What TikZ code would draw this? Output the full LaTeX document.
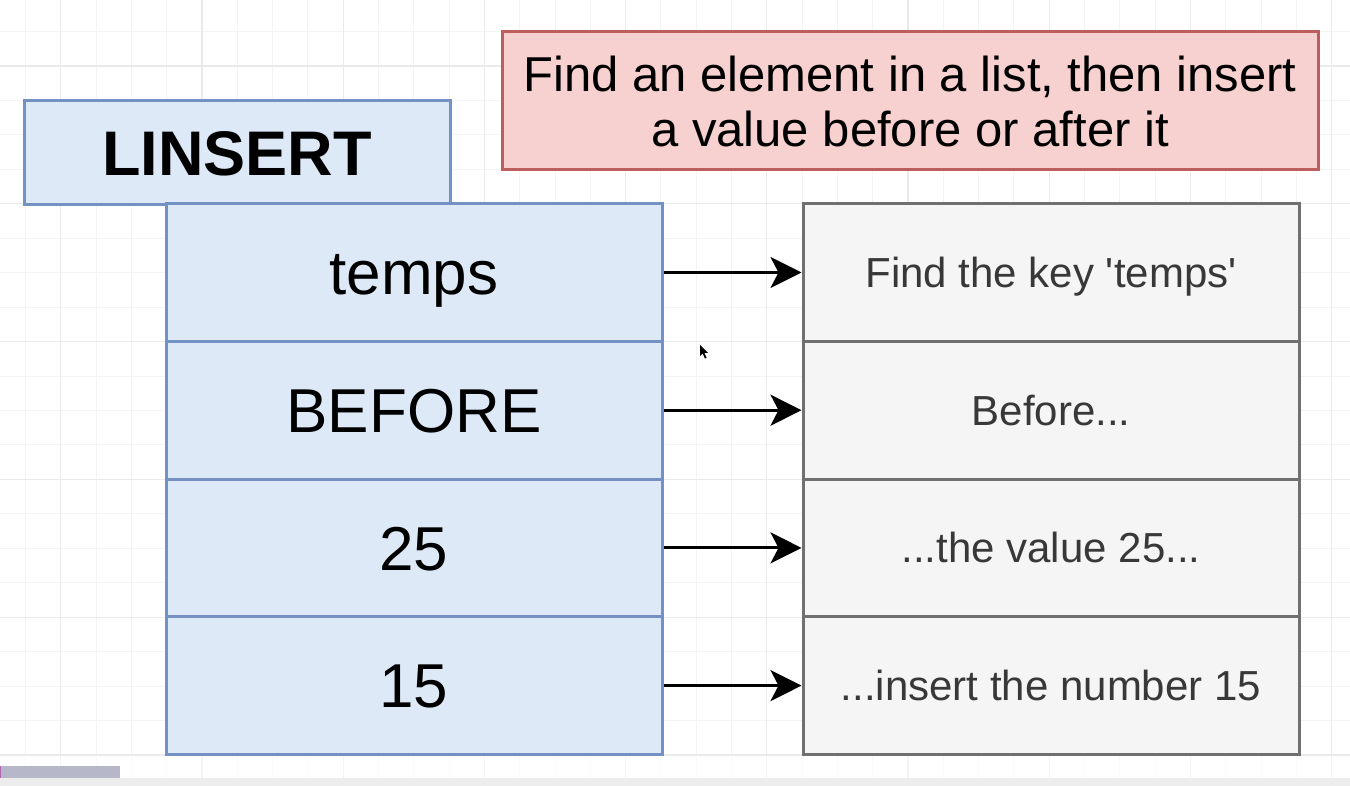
\documentclass[tikz,border=0pt]{standalone}
\usepackage{fontspec}
\setmainfont{Liberation Sans}
\usetikzlibrary{arrows.meta}

\definecolor{gridminor}{HTML}{F4F4F4}
\definecolor{gridmajor}{HTML}{EAEAEA}
\definecolor{bluefill}{HTML}{DEE9F8}
\definecolor{blueline}{HTML}{7391C2}
\definecolor{redfill}{HTML}{F6D1CF}
\definecolor{redline}{HTML}{BC5E5B}
\definecolor{grayfill}{HTML}{F5F5F5}
\definecolor{grayline}{HTML}{707070}
\definecolor{graytext}{HTML}{383838}
\definecolor{barfill}{HTML}{B6B7C9}

\tikzset{
  cell/.style={draw, line width=3pt, inner sep=0pt,
    minimum width=496pt, minimum height=137.7pt, align=center,
    text depth=0pt},
  keycell/.style={cell, fill=bluefill, draw=blueline, text height=44.4pt,
    font=\fontsize{62}{70}\selectfont},
  notecell/.style={cell, fill=grayfill, draw=grayline, text=graytext,
    text height=30.1pt, font=\fontsize{42}{48}\selectfont},
  cmdbox/.style={draw=blueline, fill=bluefill, line width=3pt, inner sep=0pt,
    minimum width=426pt, minimum height=104pt,
    text height=45.1pt, text depth=0pt,
    font=\bfseries\fontsize{63}{70}\selectfont},
  titlebox/.style={draw=redline, fill=redfill, line width=3pt, inner sep=0pt,
    minimum width=816pt, minimum height=138pt, align=center,
    font=\fontsize{49}{55}\selectfont},
  link/.style={line width=3pt,
    -{Stealth[length=31pt, width=31pt, inset=8pt]}},
}

\begin{document}
\begin{tikzpicture}[x=1pt, y=-1pt]
  \useasboundingbox (0,0) rectangle (1350,786);
  \fill[white] (0,0) rectangle (1350,786);

  % background grid: minor lines, then every fourth line darker
  \foreach \i in {-6,...,33}
    \draw[gridminor, line width=1pt] ({202+\i*35.3},0) -- ({202+\i*35.3},786);
  \foreach \j in {-2,...,21}
    \draw[gridminor, line width=1pt] (0,{66+\j*34.45}) -- (1350,{66+\j*34.45});
  \foreach \i in {-4,0,...,32}
    \draw[gridmajor, line width=1.3pt] ({202+\i*35.3},0) -- ({202+\i*35.3},786);
  \foreach \j in {0,4,...,20}
    \draw[gridmajor, line width=1.3pt] (0,{66+\j*34.45}) -- (1350,{66+\j*34.45});

  % command header and summary
  \node[cmdbox] (cmd) at (237,153) {LINSERT};
  \node[titlebox] (title) at (910,101)
    {Find an element in a list, then insert\\a value before or after it};

  % argument column
  \node[keycell] (k1) at (414,272.5) {temps};
  \node[keycell] (k2) at (414,410.2) {BEFORE};
  \node[keycell] (k3) at (414,547.9) {25};
  \node[keycell] (k4) at (414,685.6) {15};

  % explanation column
  \node[notecell] (n1) at (1051,272.5) {Find the key \textquotesingle temps\textquotesingle};
  \node[notecell] (n2) at (1051,410.2) {Before...};
  \node[notecell] (n3) at (1051,547.9) {...the value 25...};
  \node[notecell] (n4) at (1051,685.6) {...insert the number 15};

  % connectors
  \foreach \r in {1,2,3,4}
    \draw[link] (k\r.east) -- (n\r.west);

  % pointer
  \fill[black] (700,345) -- (700,356) -- (702.6,353.4) -- (705,358.6)
    -- (706.6,357.8) -- (704.3,352.8) -- (707.8,352.8) -- cycle;

  % player strip along the bottom edge
  \fill[white, opacity=0.55] (0,756) rectangle (1350,778);
  \fill[black!7] (0,778) rectangle (1350,786);
  \fill[barfill] (0,766) rectangle (120,778);
  \fill[violet!60] (0,766) rectangle (1,778);
\end{tikzpicture}
\end{document}
